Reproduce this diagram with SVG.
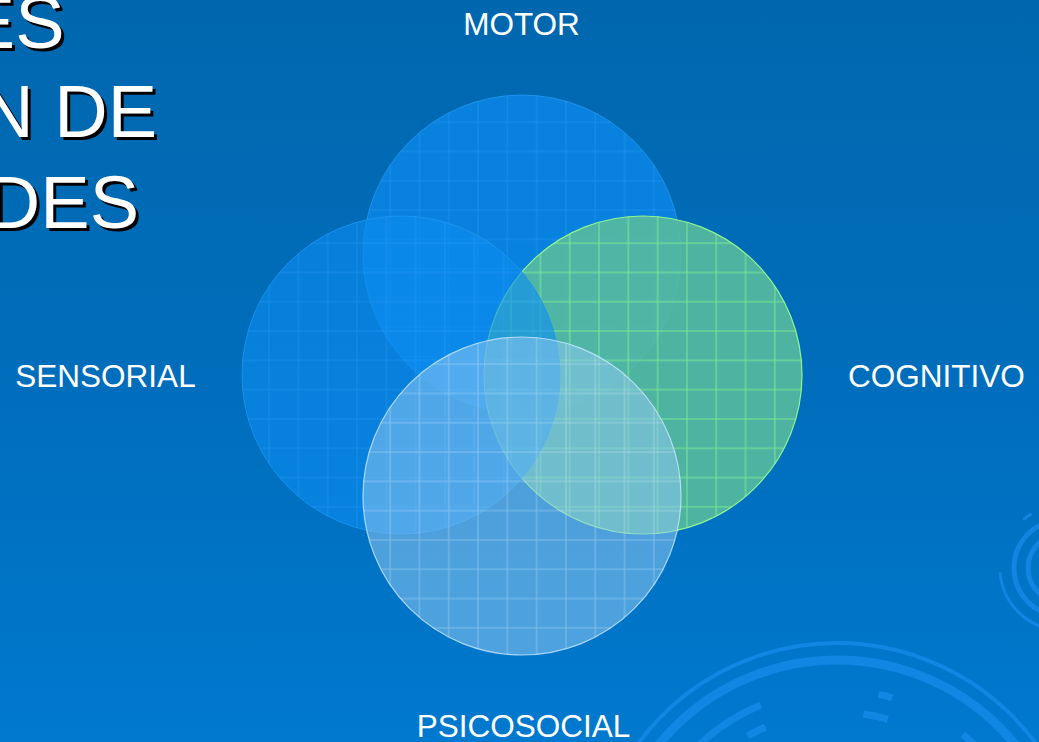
<svg xmlns="http://www.w3.org/2000/svg" width="1039" height="742" viewBox="0 0 1039 742">
<defs>
<linearGradient id="bg" x1="0" y1="0" x2="0" y2="1">
<stop offset="0" stop-color="#0067ae"/>
<stop offset="0.6" stop-color="#006fbe"/>
<stop offset="1" stop-color="#0079cf"/>
</linearGradient>
<pattern id="gridBlue" patternUnits="userSpaceOnUse" width="29.3" height="29.3">
<path d="M14.65 0V29.3M0 14.65H29.3" stroke="#3aa6ff" stroke-opacity="0.35" stroke-width="1" fill="none"/>
</pattern>
<pattern id="gridGreen" patternUnits="userSpaceOnUse" width="29.3" height="29.3">
<path d="M14.65 0V29.3M0 14.65H29.3" stroke="#8dff8a" stroke-opacity="0.7" stroke-width="1" fill="none"/>
</pattern>
<pattern id="gridWhite" patternUnits="userSpaceOnUse" width="29.3" height="29.3">
<path d="M14.65 0V29.3M0 14.65H29.3" stroke="#ffffff" stroke-opacity="0.3" stroke-width="1" fill="none"/>
</pattern>
</defs>
<style>
.lbl{font-family:"Liberation Sans",Arial,sans-serif;font-size:31.5px;fill:#ffffff;text-anchor:middle}
.ttl{font-family:"Liberation Sans",Arial,sans-serif;font-size:74px;text-anchor:end}
.ttl-sh{fill:#000000}
.ttl-fg{fill:#ffffff}
.ring{fill:none;stroke:#1a8ff0;stroke-opacity:0.65}
.blue{fill:#0a88e8;fill-opacity:0.8;stroke:#2a9cf8;stroke-opacity:0.7;stroke-width:1}
.sens{fill:#0c8cf0;fill-opacity:0.62;stroke:#1e96f5;stroke-opacity:0.8;stroke-width:1}
.green{fill:#5cbf9c;fill-opacity:0.85;stroke:#90f590;stroke-width:1.2}
.psico{fill:#8cc6f0;fill-opacity:0.55;stroke:#c8e8ff;stroke-opacity:0.8;stroke-width:1.2}
</style>
<rect x="0" y="0" width="1039" height="742" fill="url(#bg)"/>
<g id="decor">
<circle class="ring" cx="837" cy="890" r="247" stroke-width="4" stroke-dasharray="700 40 900"/>
<circle class="ring" cx="837" cy="890" r="230" stroke-width="9"/>
<circle class="ring" cx="837" cy="890" r="200" stroke-width="7" stroke-dasharray="120 14 80 30 200 20 400"/>
<circle class="ring" cx="837" cy="890" r="178" stroke-width="7" stroke-dasharray="150 20 100 25 300"/>
<circle class="ring" cx="837" cy="890" r="158" stroke-width="7" stroke-dasharray="90 18 300"/>
<circle class="ring" cx="837" cy="890" r="138" stroke-width="6"/>
<circle class="ring" cx="1062" cy="568" r="62" stroke-width="3" stroke-dasharray="60 10 120"/>
<circle class="ring" cx="1062" cy="568" r="48" stroke-width="5"/>
<circle class="ring" cx="1062" cy="568" r="34" stroke-width="5"/>
<circle class="ring" cx="1062" cy="568" r="20" stroke-width="5"/>
</g>
<g id="title">
<text class="ttl ttl-sh" x="67.5" y="51">ES</text>
<text class="ttl ttl-fg" x="64.5" y="48">ES</text>
<text class="ttl ttl-sh" x="160" y="139.5">N DE</text>
<text class="ttl ttl-fg" x="157" y="136.5">N DE</text>
<text class="ttl ttl-sh" x="142" y="231">DES</text>
<text class="ttl ttl-fg" x="139" y="228">DES</text>
</g>
<g id="node-motor" transform="translate(522,254)">
<circle class="blue" r="159"/>
<circle r="159" fill="url(#gridBlue)"/>
</g>
<g id="node-cognitivo" transform="translate(643,375)">
<circle class="green" r="159"/>
<circle r="159" fill="url(#gridGreen)"/>
</g>
<g id="node-sensorial" transform="translate(401,375)">
<circle class="sens" r="159"/>
<circle r="159" fill="url(#gridBlue)"/>
</g>
<g id="node-psicosocial" transform="translate(522,496)">
<circle class="psico" r="159"/>
<circle r="159" fill="url(#gridWhite)"/>
</g>
<g id="connectors"/>
<g id="labels">
<text class="lbl" x="521.5" y="35">MOTOR</text>
<text class="lbl" x="105.5" y="387">SENSORIAL</text>
<text class="lbl" x="936.5" y="387">COGNITIVO</text>
<text class="lbl" x="523.5" y="737">PSICOSOCIAL</text>
</g>
</svg>
